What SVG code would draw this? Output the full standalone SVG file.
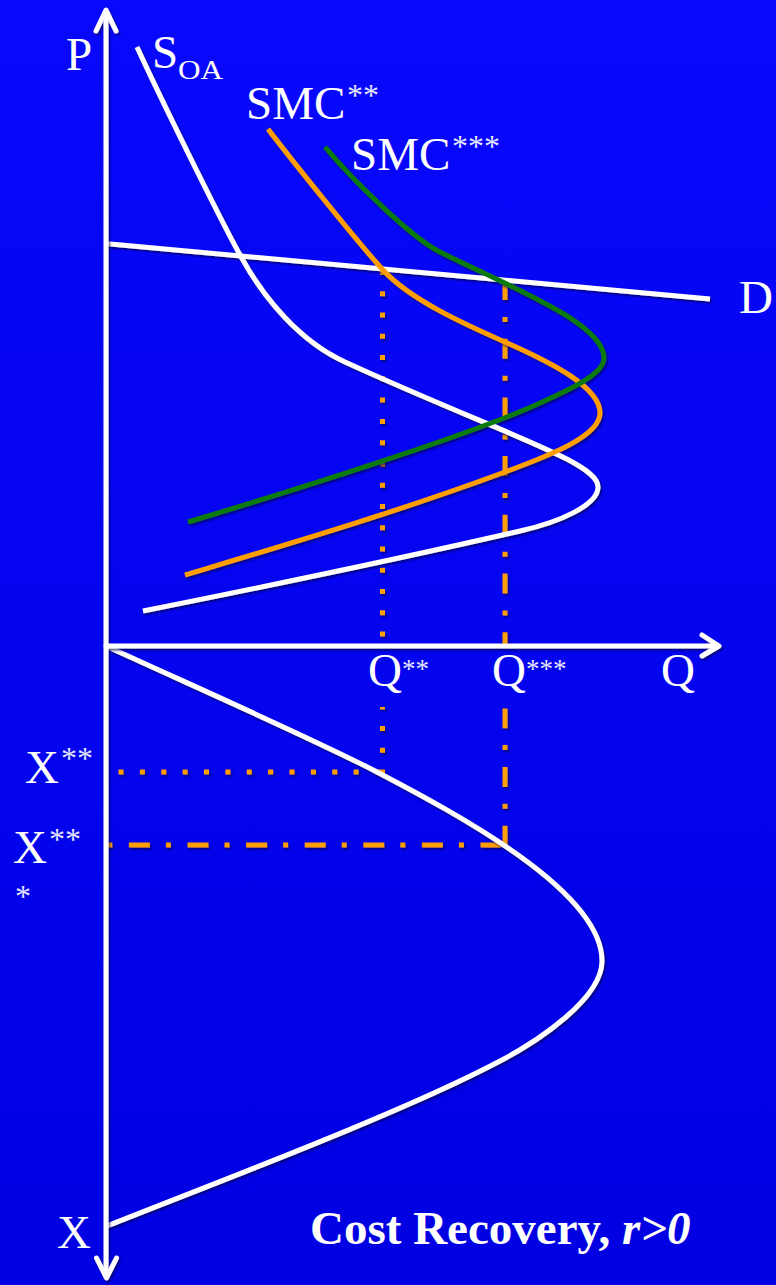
<svg xmlns="http://www.w3.org/2000/svg" width="776" height="1285" viewBox="0 0 776 1285">
<defs>
<linearGradient id="bg" gradientUnits="userSpaceOnUse" x1="0" y1="0" x2="0" y2="1285">
<stop offset="0" stop-color="#0808FC"/>
<stop offset="1" stop-color="#0000E2"/>
</linearGradient>
<filter id="sh" x="-10%" y="-10%" width="120%" height="120%">
<feDropShadow dx="1.5" dy="2" stdDeviation="1.2" flood-color="#000050" flood-opacity="0.7"/>
</filter>
<style>
.ax{fill:none;stroke:#fff;stroke-width:5;stroke-linecap:round;stroke-linejoin:round}
.w{fill:none;stroke:#fff;stroke-width:5}
.o{fill:none;stroke:#FF9E00;stroke-width:5}
.g{fill:none;stroke:#0A7A0A;stroke-width:5}
.dot{fill:none;stroke:#FF9E00;stroke-width:5;stroke-dasharray:5 16.27}
.dd{fill:none;stroke:#FF9E00;stroke-width:5}
text{font-family:"Liberation Serif","Times New Roman",serif;fill:#fff}
.t{font-size:47px}
.s{font-size:32px;fill:#E6E6FF}
.ss{font-size:27px;fill:#E6E6FF}
</style>
</defs>
<rect x="0" y="0" width="776" height="1285" fill="url(#bg)"/>

<g id="guides" filter="url(#sh)">
<line class="dot" x1="382.5" y1="270" x2="382.5" y2="645"/>
<line class="dot" x1="382.5" y1="707" x2="382.5" y2="774.5" style="stroke-dasharray:5 16.7;stroke-dashoffset:2.6"/>
<line class="dot" x1="118.5" y1="772" x2="380" y2="772" style="stroke-dasharray:5 16.375"/>
<line class="dd" x1="505" y1="280" x2="505" y2="645" stroke-dasharray="20 17 5 16.7"/>
<line class="dd" x1="505" y1="708.5" x2="505" y2="845" stroke-dasharray="19.8 16.8 5 17"/>
<line class="dd" x1="107.3" y1="845" x2="502" y2="845" stroke-dasharray="5 16.6 21 16"/>
</g>

<g id="curves" filter="url(#sh)">
<line id="demand" class="w" x1="105" y1="243.5" x2="710" y2="299"/>
<path id="soa" class="w" d="M137,47 C160,97 218,215 240,255 C264,299 300,341.5 345,362 C505,435 598,462 598,487 C598,505 560,522 520,531 C400,558.6 263,587 143,611"/>
<path id="smc2" class="o" d="M268,129 C290,158 360,245 383,270 C410.6,300 465,324.4 505,342 C555,364 600,388 600,413 C600,436 550,455.4 505,472 C395,512.7 285,545 185,575"/>
<path id="smc3" class="g" d="M325,147 C350,177 410,237 440,252 C510,287 604,323 604,358 C604,375 565,391.5 540,403 C470,435.2 288,492 188,522"/>
<path id="xcurve" class="w" d="M106,646 C200,689 320,742 377,772 C457,814 602,891 602,961 C602,998 540,1040 500,1061 C400,1114 207,1186 107,1226"/>
</g>

<g id="axes" filter="url(#sh)">
<line class="ax" x1="106" y1="12" x2="106" y2="1276"/>
<polyline class="ax" points="96,31 106,10 116,31"/>
<polyline class="ax" points="96.5,1258 106.5,1278 116.5,1258"/>
<line class="ax" x1="106" y1="646" x2="717" y2="646"/>
<polyline class="ax" points="702,635 719,646 702,656"/>
</g>

<g id="labels">
<text class="t" x="66" y="70">P</text>
<text class="t" x="152" y="68">S</text>
<text x="178" y="79" style="font-size:27px" textLength="45" lengthAdjust="spacingAndGlyphs">OA</text>
<text class="t" x="246" y="119">SMC</text>
<text class="s" x="347" y="106">**</text>
<text class="t" x="351" y="170">SMC</text>
<text class="s" x="452" y="157">***</text>
<text class="t" x="739" y="313">D</text>
<text class="t" x="368" y="686">Q</text>
<text class="ss" x="402" y="678">**</text>
<text class="t" x="492" y="686">Q</text>
<text class="ss" x="526" y="678">***</text>
<text class="t" x="661" y="686">Q</text>
<text class="t" x="25" y="783">X</text>
<text class="s" x="61" y="769">**</text>
<text class="t" x="13" y="863">X</text>
<text class="s" x="49" y="850">**</text>
<text class="s" x="15" y="907">*</text>
<text class="t" x="57" y="1248">X</text>
<text x="310" y="1244" style="font-size:47px;font-weight:bold">Cost Recovery, <tspan font-style="italic">r&gt;0</tspan></text>
</g>
</svg>
